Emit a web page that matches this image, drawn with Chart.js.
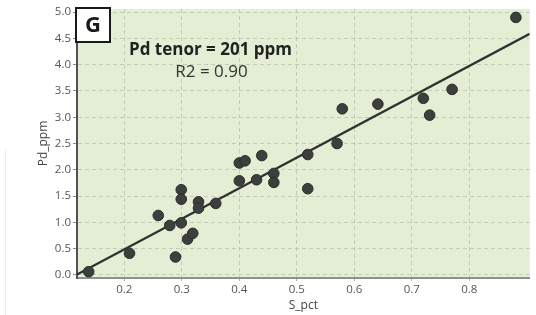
<!DOCTYPE html>
<html>
<head>
<meta charset="utf-8">
<script src="https://cdn.jsdelivr.net/npm/chart.js@4.4.1/dist/chart.umd.min.js"></script>
<style>
  html, body { margin: 0; padding: 0; background: #ffffff; }
  #wrap { position: relative; width: 536px; height: 315px; }
  #edge { position: absolute; left: 5px; top: 150px; width: 1px; height: 165px; background: #ececec; }
</style>
</head>
<body>
<div id="wrap">
  <div id="edge"></div>
  <canvas id="c" width="536" height="315"></canvas>
</div>
<script>
// ---- data ----
const sPct  = [0.138, 0.209, 0.259, 0.279, 0.289, 0.299, 0.299, 0.299, 0.310, 0.319,
               0.329, 0.329, 0.359, 0.400, 0.410, 0.439, 0.400, 0.430, 0.460, 0.460,
               0.519, 0.519, 0.570, 0.579, 0.641, 0.720, 0.731, 0.770, 0.881];
const pdPpm = [0.06, 0.41, 1.13, 0.94, 0.34, 1.62, 1.44, 0.99, 0.68, 0.79,
               1.39, 1.27, 1.36, 2.13, 2.17, 2.27, 1.79, 1.81, 1.93, 1.76,
               2.29, 1.64, 2.50, 3.16, 3.25, 3.36, 3.04, 3.53, 4.90];
const xTickValues = [0.2, 0.3, 0.4, 0.5, 0.6, 0.7, 0.8];
const yTickValues = [0.0, 0.5, 1.0, 1.5, 2.0, 2.5, 3.0, 3.5, 4.0, 4.5, 5.0];
const fitSlope = 5.82;
const fitIntercept = -0.68;
const panelLabel = 'G';
const tenorText = 'Pd tenor = 201 ppm';
const r2Text = 'R2 = 0.90';
const xTitle = 'S_pct';
const yTitle = 'Pd_ppm';
const xRange = [0.1177, 0.905];
const yRange = [-0.06, 5.06];

const FONT = '"Open Sans", "Noto Sans", sans-serif';

const points = sPct.map((x, i) => ({ x: x, y: pdPpm[i] }));
const fitLine = xRange.map(x => ({ x: x, y: fitSlope * x + fitIntercept }));

const bgPlugin = {
  id: 'plotBg',
  beforeDraw(chart) {
    const { ctx, chartArea: a } = chart;
    ctx.save();
    ctx.fillStyle = '#e3eed5';
    ctx.fillRect(a.left, a.top, a.right - a.left, a.bottom - a.top);
    ctx.restore();
  }
};

const annPlugin = {
  id: 'annotations',
  afterDraw(chart) {
    const { ctx } = chart;
    ctx.save();
    // panel label box
    ctx.fillStyle = '#ffffff';
    ctx.fillRect(76, 8, 34, 34);
    ctx.strokeStyle = '#1a1a1a';
    ctx.lineWidth = 2;
    ctx.strokeRect(76, 8, 34, 34);
    ctx.fillStyle = '#1a1a1a';
    ctx.font = 'bold 22px ' + FONT;
    ctx.textAlign = 'center';
    ctx.textBaseline = 'middle';
    ctx.fillText(panelLabel, 93, 26);
    // texts
    ctx.fillStyle = '#222222';
    ctx.font = 'bold 17px ' + FONT;
    ctx.fillText(tenorText, 210.5, 50);
    ctx.fillStyle = '#333333';
    ctx.font = '17px ' + FONT;
    ctx.fillText(r2Text, 211.5, 72);
    ctx.restore();
  }
};

new Chart(document.getElementById('c'), {
  type: 'scatter',
  data: {
    datasets: [
      {
        type: 'scatter',
        data: points,
        pointRadius: 5.3,
        pointHoverRadius: 5.3,
        pointBackgroundColor: '#3c3f3c',
        pointBorderColor: '#2b2d2b',
        pointBorderWidth: 1,
        order: 1
      },
      {
        type: 'line',
        data: fitLine,
        borderColor: '#2f322f',
        borderWidth: 2.2,
        pointRadius: 0,
        fill: false,
        order: 2
      }
    ]
  },
  options: {
    responsive: false,
    devicePixelRatio: 1,
    animation: false,
    layout: { padding: { top: 9, left: 0, right: 0, bottom: 0 } },
    plugins: { legend: { display: false }, tooltip: { enabled: false } },
    scales: {
      x: {
        type: 'linear',
        min: xRange[0],
        max: xRange[1],
        afterBuildTicks(scale) { scale.ticks = xTickValues.map(v => ({ value: v })); },
        afterFit(scale) { scale.height = 37; },
        ticks: {
          color: '#555555',
          font: { family: FONT, size: 11.5 },
          padding: 2,
          maxRotation: 0,
          autoSkip: false,
          callback: v => v.toFixed(1)
        },
        grid: {
          color: 'rgba(175,180,165,0.6)',
          lineWidth: 1,
          tickLength: 3,
          tickColor: '#b0b0b0',
          tickBorderDash: []
        },
        border: { display: true, color: '#8c918a', width: 2, dash: [4, 3] },
        title: {
          display: true,
          text: xTitle,
          color: '#444444',
          font: { family: FONT, size: 12 },
          padding: { top: 0, bottom: 2 }
        }
      },
      y: {
        type: 'linear',
        min: yRange[0],
        max: yRange[1],
        afterBuildTicks(scale) { scale.ticks = yTickValues.map(v => ({ value: v })); },
        afterFit(scale) { scale.width = 77; },
        ticks: {
          color: '#555555',
          font: { family: FONT, size: 11.5 },
          padding: 2,
          autoSkip: false,
          callback: v => v.toFixed(1)
        },
        grid: {
          color: 'rgba(175,180,165,0.6)',
          lineWidth: 1,
          tickLength: 4,
          tickColor: '#888888',
          tickBorderDash: []
        },
        border: { display: true, color: '#4f524f', width: 2, dash: [4, 3] },
        title: {
          display: true,
          text: yTitle,
          color: '#444444',
          font: { family: FONT, size: 12 },
          padding: { top: 36, bottom: 0 }
        }
      }
    }
  },
  plugins: [bgPlugin, annPlugin]
});
</script>
</body>
</html>
